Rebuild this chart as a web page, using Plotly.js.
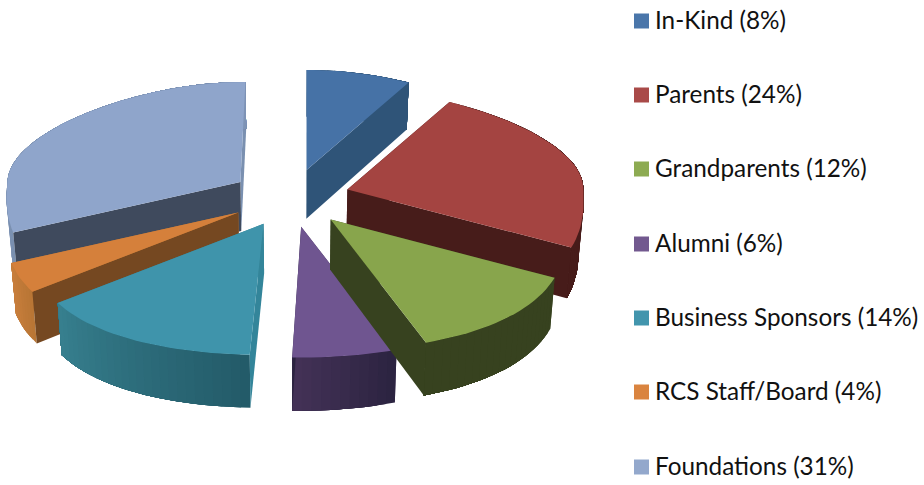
<!DOCTYPE html>
<html>
<head>
<meta charset="utf-8">
<script src="https://cdn.plot.ly/plotly-3.0.1.min.js"></script>
<style>html,body{margin:0;padding:0;background:#fff}#chart{width:924px;height:485px}</style>
</head>
<body>
<div id="chart"></div>
<script>
const categories = ["In-Kind","Parents","Grandparents","Alumni","Business Sponsors","RCS Staff/Board","Foundations"];
const values = [8,24,12,6,14,4,31];
const topColors = ["#4672a6","#a44441","#88a54c","#6f5590","#3f94ab","#d5803b","#8fa5cb"];
const legendColors = ["#4a76aa","#a94a48","#8dab52","#72598f","#4295ad","#da843f","#93a8cc"];
const wallStartColors = ["#2f5478","#471c1a","#37421f","#443257","#33859a","#754821","#3f4a5d"];
const wallEndColors = ["#2f5478","#471c1a","#37421f","#2b2340","#37808f","#b87534","#7a90b0"];
const outerFromColors = ["#2f5478","#471c1a","#37421f","#2b2340","#235a68","#b87534","#7a90b0"];
const outerToColors = ["#2f5478","#471c1a","#37421f","#443257","#37808f","#c97f3c","#7e93b5"];
const paintOrder = [6,5,4,0,1,3,2];

const CX=293, CY=198, RY_BACK=100, RY_FRONT=131, EY=29;
const total = values.reduce((a,b)=>a+b,0);
const rad = d => d*Math.PI/180;

function rim(theta,leftSide){
  const s=Math.sin(rad(theta)), c=Math.cos(rad(theta));
  const widen = c>0 ? 1-0.144*c*c : 1+0.2*Math.pow(-c,1.5);
  const lean = leftSide ? 5*c : 0;
  const rx = leftSide ? 233 : 236;
  return [rx*s*widen+lean, (c>0?RY_BACK:RY_FRONT)*c];
}
function drop(p){
  return [CX+(p[0]-CX)*0.983, p[1]+47+0.022*(p[1]-83)];
}
function mix(a,b,t){
  const pa=[1,3,5].map(i=>parseInt(a.substr(i,2),16));
  const pb=[1,3,5].map(i=>parseInt(b.substr(i,2),16));
  return "rgb("+pa.map((v,i)=>Math.round(v+(pb[i]-v)*t)).join(",")+")";
}
function poly(points,color){
  const xs=points.map(p=>p[0]), ys=points.map(p=>p[1]);
  xs.push(xs[0]); ys.push(ys[0]);
  return {type:"scatter",mode:"lines",x:xs,y:ys,fill:"toself",fillcolor:color,
    line:{color:color,width:0},hoverinfo:"skip",showlegend:false};
}

const starts=[]; let running=0;
values.forEach(v=>{starts.push(running); running+=v;});

const traces=[];
paintOrder.forEach(i=>{
  const a0=starts[i]/total*360, a1=(starts[i]+values[i])/total*360, mid=(a0+a1)/2;
  const leftSide = mid>180;
  const ex = leftSide ? 62 : 58;
  const ax=CX-1+ex*Math.sin(rad(mid)), ay=CY-EY*Math.cos(rad(mid));
  const apex=[ax,ay];
  const arc=[];
  const n=Math.max(4,Math.ceil((a1-a0)/2));
  for(let k=0;k<=n;k++){
    const r=rim(a0+(a1-a0)*k/n,leftSide);
    arc.push([ax+r[0],ay-r[1]]);
  }
  const first=arc[0], last=arc[arc.length-1];
  const startWall=poly([apex,first,drop(first),drop(apex)],wallStartColors[i]);
  const endWall=poly([apex,last,drop(last),drop(apex)],wallEndColors[i]);
  // The wall that faces the viewer is painted after the outer wall.
  traces.push(leftSide?endWall:startWall);
  // Outer wall: each shade overlaps the rest of the arc, so no seams show between shades.
  for(let k=0;k<n;k++){
    const band=arc.slice(k);
    const under=band.map(drop).reverse();
    traces.push(poly(band.concat(under),mix(outerFromColors[i],outerToColors[i],(k+0.5)/n)));
  }
  traces.push(leftSide?startWall:endWall);
  traces.push(poly([apex].concat(arc),topColors[i]));
});

const legendY=[21,95,169,244,318,392,467];
traces.push({type:"scatter",mode:"markers",x:categories.map(()=>641.5),y:legendY,
  marker:{symbol:"square",size:15,color:legendColors,line:{width:0}},
  hoverinfo:"skip",showlegend:false});
traces.push({type:"scatter",mode:"text",x:categories.map(()=>655),y:legendY.map(v=>v+2),
  text:categories.map((c,i)=>c+" ("+values[i]+"%)"),
  textposition:"middle right",
  textfont:{family:"Lato, sans-serif",size:24.3,color:"#111111"},
  hoverinfo:"skip",showlegend:false,cliponaxis:false});

Plotly.newPlot("chart",traces,{
  width:924,height:485,margin:{l:0,r:0,t:0,b:0},
  paper_bgcolor:"#ffffff",plot_bgcolor:"#ffffff",showlegend:false,
  xaxis:{range:[0,924],visible:false,fixedrange:true},
  yaxis:{range:[485,0],visible:false,fixedrange:true}
},{staticPlot:true,displayModeBar:false});
</script>
</body>
</html>
